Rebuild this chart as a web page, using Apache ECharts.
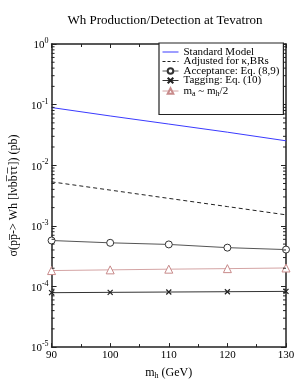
<!DOCTYPE html>
<html><head><meta charset="utf-8">
<script src="https://cdn.jsdelivr.net/npm/echarts@6/dist/echarts.min.js"></script>
<style>html,body{margin:0;padding:0;background:#fff}#c{width:298px;height:385px}</style>
</head><body><div id="c"></div>
<script>
// Data (cross sections in pb)
const masses = [90, 100, 110, 120, 130];
const standardModel = [0.0895, 0.065, 0.0478, 0.0351, 0.0253];
const adjustedKappaBR = [0.00532, 0.00389, 0.00284, 0.00208, 0.00152];
const acceptance = [5.73e-4, 5.25e-4, 4.94e-4, 4.37e-4, 4.06e-4];
const tagging = [7.9e-5, 8.0e-5, 8.1e-5, 8.2e-5, 8.3e-5];
const maHalf = [1.83e-4, 1.88e-4, 1.93e-4, 1.97e-4, 2.02e-4];
// Axis tick definitions
const xTicks = [90, 100, 110, 120, 130];
const yDecades = [1e-5, 1e-4, 1e-3, 1e-2, 1e-1];
const yMinorFactors = [2, 3, 4, 5, 6, 7, 8, 9];

const FONT = 'Liberation Serif';
const AX = '#222';
const minorTickData = [];
yDecades.forEach(d => yMinorFactors.forEach(f => minorTickData.push([xTicks[0], d * f])));

const pair = (ys) => masses.map((m, i) => [m, ys[i]]);

// legend line glyphs (bounding box kept at 16x7 by the move-to points)
const solidIcon = 'path://M0,0M0,3L16,3L16,4L0,4ZM16,7';
const dashIcon = 'path://M0,0M0,3h3v1h-3zM5,3h3v1h-3zM10,3h3v1h-3zM15,3h1v1h-1zM16,7';

const chart = echarts.init(document.getElementById('c'), null, {renderer: 'canvas'});
const supRich = {
  b: {fontFamily: FONT, fontSize: 11, color: '#000', verticalAlign: 'bottom', lineHeight: 14},
  s: {fontFamily: FONT, fontSize: 8, color: '#000', verticalAlign: 'top', lineHeight: 14}
};
chart.setOption({
  animation: false,
  backgroundColor: '#fff',
  title: {
    text: 'Wh Production/Detection at Tevatron',
    left: 165, top: 14, padding: 0,
    textAlign: 'center',
    textStyle: {fontFamily: FONT, fontSize: 13, fontWeight: 'normal', color: '#000'}
  },
  grid: {left: 44, right: 12, top: 44, bottom: 31},
  legend: {
    left: 159, top: 43,
    orient: 'vertical',
    padding: [3.5, 4, 17, 3],
    itemGap: -1.5,
    itemWidth: 16, itemHeight: 7,
    borderColor: AX, borderWidth: 1.2,
    backgroundColor: '#fff',
    lineStyle: {width: 1},
    data: [
      {name: 'Standard Model', icon: solidIcon},
      {name: 'Adjusted for κ,BRs', icon: dashIcon},
      {name: 'Acceptance: Eq. (8,9)'},
      {name: 'Tagging: Eq. (10)'},
      {name: 'ma'}
    ],
    formatter: function (name) {
      if (name === 'ma') return '{t|m}{u|a}{t| ~ m}{u|h}{t|/2}';
      return '{t|' + name + '}';
    },
    textStyle: {
      fontFamily: FONT, fontSize: 11, color: '#000', lineHeight: 9.5,
      rich: {
        t: {fontFamily: FONT, fontSize: 11, color: '#000', lineHeight: 9.5},
        u: {fontFamily: FONT, fontSize: 8, color: '#000', lineHeight: 9.5, padding: [5, 0, 0, 0]}
      }
    }
  },
  xAxis: [{
    type: 'value', min: 90, max: 130, interval: 10, position: 'bottom',
    axisLine: {lineStyle: {color: AX, width: 1.5}},
    axisTick: {inside: true, length: 4, lineStyle: {color: AX}},
    minorTick: {show: true, splitNumber: 2, length: 3, lineStyle: {color: AX}},
    splitLine: {show: false},
    axisLabel: {fontFamily: FONT, fontSize: 11, color: '#000', margin: 3},
    name: '{m|m}{h|h}{m| (GeV)}',
    nameLocation: 'middle', nameGap: 12,
    nameTextStyle: {
      rich: {
        m: {fontFamily: FONT, fontSize: 12, color: '#000', lineHeight: 14},
        h: {fontFamily: FONT, fontSize: 8, color: '#000', lineHeight: 14, padding: [6, 0, 0, 0]}
      }
    }
  }, {
    type: 'value', min: 90, max: 130, interval: 10, position: 'top',
    axisLine: {show: true, lineStyle: {color: AX, width: 1.5}},
    axisTick: {inside: true, length: 4, lineStyle: {color: AX}},
    minorTick: {show: true, splitNumber: 2, length: 3, lineStyle: {color: AX}},
    splitLine: {show: false},
    axisLabel: {show: false}
  }],
  yAxis: [{
    type: 'log', logBase: 10, min: 1e-5, max: 1, interval: 1, position: 'left',
    axisLine: {show: true, lineStyle: {color: AX, width: 1.5}},
    axisTick: {inside: true, length: 5, lineStyle: {color: AX}},
    splitLine: {show: false},
    axisLabel: {
      margin: 3,
      formatter: function (v) {
        return '{b|10}{s|' + Math.round(Math.log10(v)) + '}';
      },
      rich: supRich
    },
    name: 'σ(pp̅-> Wh [lνbb̅τ̅τ]) (pb)',
    nameLocation: 'middle', nameRotate: 90, nameGap: 31,
    nameTextStyle: {fontFamily: FONT, fontSize: 12, color: '#000'}
  }, {
    type: 'log', logBase: 10, min: 1e-5, max: 1, interval: 1, position: 'right',
    axisLine: {show: true, lineStyle: {color: AX, width: 1.5}},
    axisTick: {inside: true, length: 5, lineStyle: {color: AX}},
    splitLine: {show: false},
    axisLabel: {show: false}
  }],
  series: [{
    name: 'Standard Model', type: 'line', data: pair(standardModel),
    symbol: 'none', lineStyle: {color: '#3a3aff', width: 1}, itemStyle: {color: '#3a3aff'}
  }, {
    name: 'Adjusted for κ,BRs', type: 'line', data: pair(adjustedKappaBR),
    symbol: 'none', lineStyle: {color: '#222', width: 1, type: [4, 3]}, itemStyle: {color: '#222'}
  }, {
    name: 'Acceptance: Eq. (8,9)', type: 'line', data: pair(acceptance),
    symbol: 'circle', symbolSize: 7,
    lineStyle: {color: '#555', width: 1},
    itemStyle: {color: '#fff', borderColor: '#333', borderWidth: 1}
  }, {
    name: 'Tagging: Eq. (10)', type: 'line', data: pair(tagging),
    symbol: 'path://M0,0L10,10M0,10L10,0', symbolSize: 5,
    lineStyle: {color: '#333', width: 1},
    itemStyle: {color: 'transparent', borderColor: '#222', borderWidth: 1.2}
  }, {
    name: 'ma', type: 'line', data: pair(maHalf),
    symbol: 'triangle', symbolSize: 8,
    lineStyle: {color: '#d4a4a4', width: 1},
    itemStyle: {color: '#fff', borderColor: '#c88a8a', borderWidth: 1}
  }, {
    type: 'custom', silent: true, data: minorTickData, z: 5,
    renderItem: function (params, api) {
      const v = api.value(1);
      const pl = api.coord([xTicks[0], v]);
      const pr = api.coord([xTicks[xTicks.length - 1], v]);
      return {type: 'group', children: [
        {type: 'line', shape: {x1: pl[0], y1: pl[1], x2: pl[0] + 3, y2: pl[1]}, style: {stroke: AX, lineWidth: 1}},
        {type: 'line', shape: {x1: pr[0], y1: pr[1], x2: pr[0] - 3, y2: pr[1]}, style: {stroke: AX, lineWidth: 1}}
      ]};
    }
  }]
});
</script></body></html>
